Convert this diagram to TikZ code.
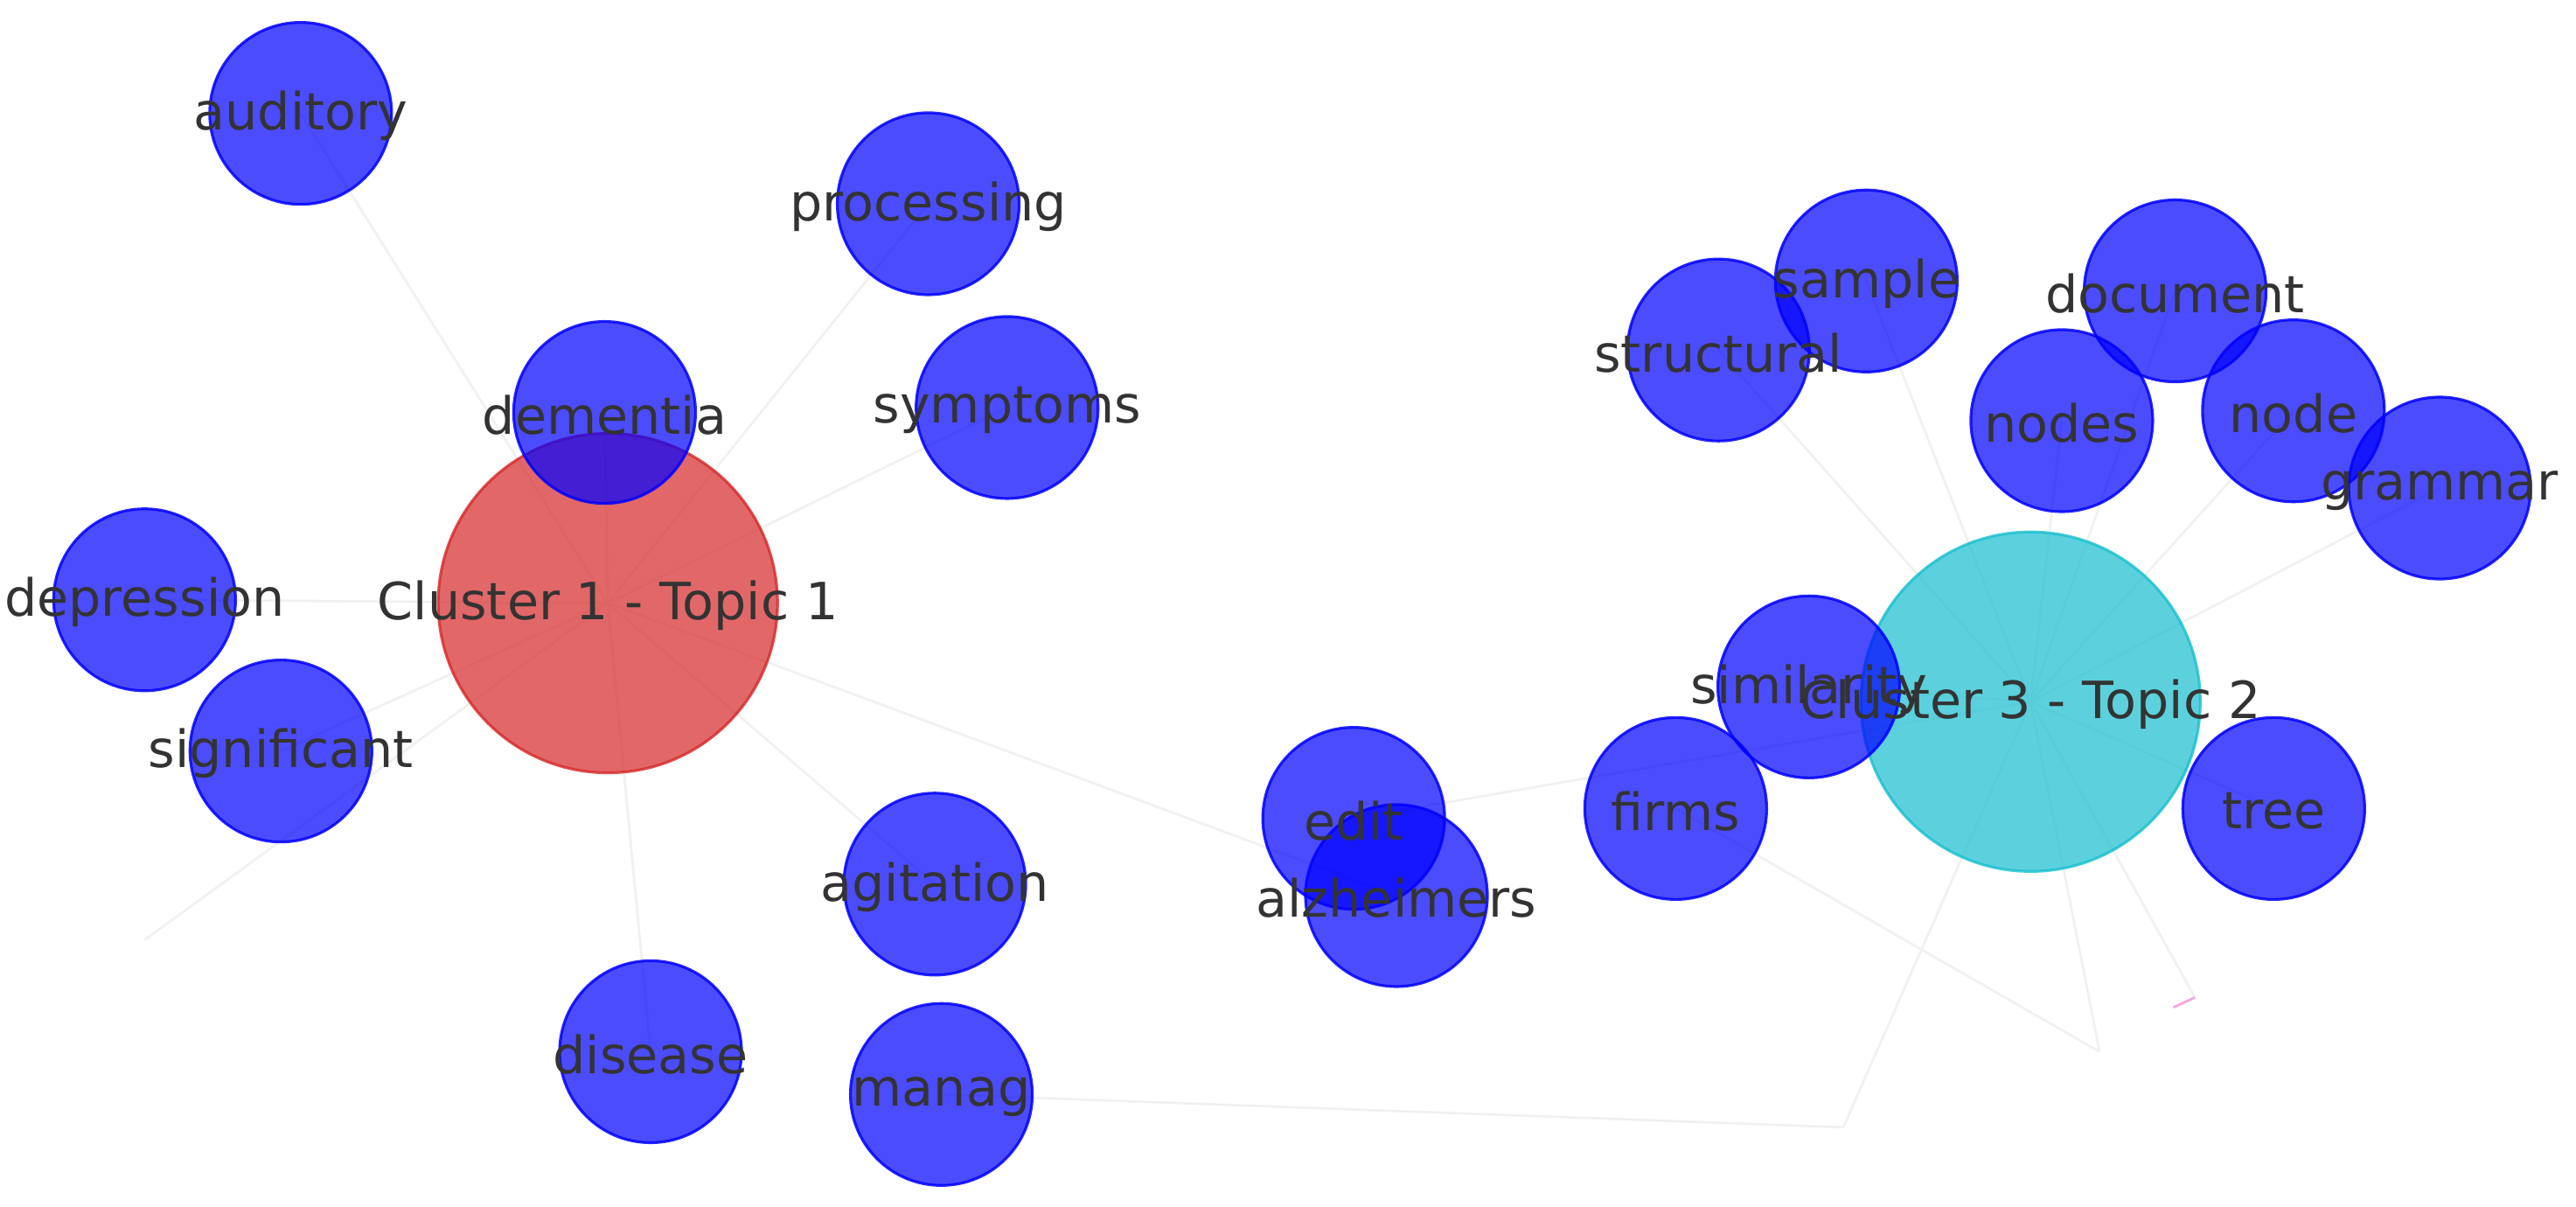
\documentclass[tikz,border=0pt]{standalone}
\usepackage{fontspec}
\setmainfont{DejaVu Sans}
\usepackage{tikz}
\usepackage{xcolor}
\usetikzlibrary{shapes.geometric, backgrounds}
\definecolor{TopicRed}{HTML}{D62728}
\definecolor{TopicCyan}{HTML}{17BECF}
\definecolor{WordBlue}{HTML}{0000FF}
\definecolor{LabelGray}{HTML}{333333}
\definecolor{EdgeGray}{HTML}{F1F1F1}
\definecolor{EdgePink}{HTML}{F2A6E2}
\tikzset{
    % Node styles - round blobs, see-through
    wordnode/.style={
        circle,
        draw=WordBlue,
        fill=WordBlue,
        fill opacity=0.7,
        draw opacity=0.85,
        line width=0.9pt,
        minimum size=2.08cm,
        inner sep=0pt
    },
    topicnode/.style={
        circle,
        fill opacity=0.7,
        draw opacity=0.8,
        line width=0.9pt,
        minimum size=3.88cm,
        inner sep=0pt
    },
    % Text on top of everything
    wordlabel/.style={
        text=LabelGray,
        font=\fontsize{16.7}{19}\selectfont,
        inner sep=0pt,
        yshift=-0.03cm
    },
    % Edge styles
    edgeline/.style={
        draw=EdgeGray,
        line width=0.8pt
    },
    pinkline/.style={
        draw=EdgePink,
        line width=0.8pt
    }
}

\begin{document}
\begin{tikzpicture}[x=0.01879cm, y=-0.01879cm]
    \useasboundingbox (0,0) rectangle (1568,734);

    % Topics
    \node[topicnode,draw=TopicRed,fill=TopicRed] (c1) at (370,367) {};
    \node[topicnode,draw=TopicCyan,fill=TopicCyan] (c3) at (1236,427) {};

    % Words - cluster 1
    \node[wordnode] (auditory) at (183,69) {};
    \node[wordnode] (processing) at (565,124) {};
    \node[wordnode] (dementia) at (368,251) {};
    \node[wordnode] (symptoms) at (613,248) {};
    \node[wordnode] (depression) at (88,365) {};
    \node[wordnode] (significant) at (171,457) {};
    \node[wordnode] (agitation) at (569,538) {};
    \node[wordnode] (disease) at (396,640) {};
    \node[wordnode] (manag) at (573,666) {};

    % Words - cluster 3
    \node[wordnode] (edit) at (824,498) {};
    \node[wordnode] (alzheimers) at (850,545) {};
    \node[wordnode] (firms) at (1020,492) {};
    \node[wordnode] (similarity) at (1101,418) {};
    \node[wordnode] (structural) at (1046,213) {};
    \node[wordnode] (sample) at (1136,171) {};
    \node[wordnode] (document) at (1324,177) {};
    \node[wordnode] (nodes) at (1255,256) {};
    \node[wordnode] (node) at (1396,250) {};
    \node[wordnode] (grammar) at (1485,297) {};
    \node[wordnode] (tree) at (1384,492) {};

    % Free ends
    \coordinate (pt-sw) at (88,572);
    \coordinate (pt-s1) at (1122,686);
    \coordinate (pt-s2) at (1278,640);
    \coordinate (pt-s3) at (1336,607);
    \coordinate (pt-s4) at (1323,613);

    % Edges
    \begin{scope}[on background layer]
        \draw[edgeline] (c1.center) -- (auditory.center);
        \draw[edgeline] (c1.center) -- (processing.center);
        \draw[edgeline] (c1.center) -- (dementia.center);
        \draw[edgeline] (c1.center) -- (symptoms.center);
        \draw[edgeline] (c1.center) -- (depression.center);
        \draw[edgeline] (c1.center) -- (significant.center);
        \draw[edgeline] (c1.center) -- (pt-sw);
        \draw[edgeline] (c1.center) -- (agitation.center);
        \draw[edgeline] (c1.center) -- (disease.center);
        \draw[edgeline] (c1.center) -- (alzheimers.center);
        \draw[edgeline] (c3.center) -- (edit.center);
        \draw[edgeline] (c3.center) -- (similarity.center);
        \draw[edgeline] (c3.center) -- (structural.center);
        \draw[edgeline] (c3.center) -- (sample.center);
        \draw[edgeline] (c3.center) -- (document.center);
        \draw[edgeline] (c3.center) -- (nodes.center);
        \draw[edgeline] (c3.center) -- (node.center);
        \draw[edgeline] (c3.center) -- (grammar.center);
        \draw[edgeline] (c3.center) -- (tree.center);
        \draw[edgeline] (c3.center) -- (pt-s1);
        \draw[edgeline] (c3.center) -- (pt-s2);
        \draw[edgeline] (c3.center) -- (pt-s3);
        \draw[edgeline] (manag.center) -- (pt-s1);
        \draw[edgeline] (firms.center) -- (pt-s2);
        \draw[pinkline] (pt-s3) -- (pt-s4);
    \end{scope}

    % Labels
    \node[wordlabel] (l-c1) at (c1) {Cluster 1 - Topic 1};
    \node[wordlabel] (l-c3) at (c3) {Cluster 3 - Topic 2};
    \node[wordlabel] (l-auditory) at (auditory) {auditory};
    \node[wordlabel] (l-processing) at (processing) {processing};
    \node[wordlabel] (l-dementia) at (dementia) {dementia};
    \node[wordlabel] (l-symptoms) at (symptoms) {symptoms};
    \node[wordlabel] (l-depression) at (depression) {depression};
    \node[wordlabel] (l-significant) at (significant) {significant};
    \node[wordlabel] (l-agitation) at (agitation) {agitation};
    \node[wordlabel] (l-disease) at (disease) {disease};
    \node[wordlabel] (l-manag) at (manag) {manag};
    \node[wordlabel] (l-edit) at (edit) {edit};
    \node[wordlabel] (l-alzheimers) at (alzheimers) {alzheimers};
    \node[wordlabel] (l-firms) at (firms) {firms};
    \node[wordlabel] (l-similarity) at (similarity) {similarity};
    \node[wordlabel] (l-structural) at (structural) {structural};
    \node[wordlabel] (l-sample) at (sample) {sample};
    \node[wordlabel] (l-document) at (document) {document};
    \node[wordlabel] (l-nodes) at (nodes) {nodes};
    \node[wordlabel] (l-node) at (node) {node};
    \node[wordlabel] (l-grammar) at (grammar) {grammar};
    \node[wordlabel] (l-tree) at (tree) {tree};
\end{tikzpicture}
\end{document}
